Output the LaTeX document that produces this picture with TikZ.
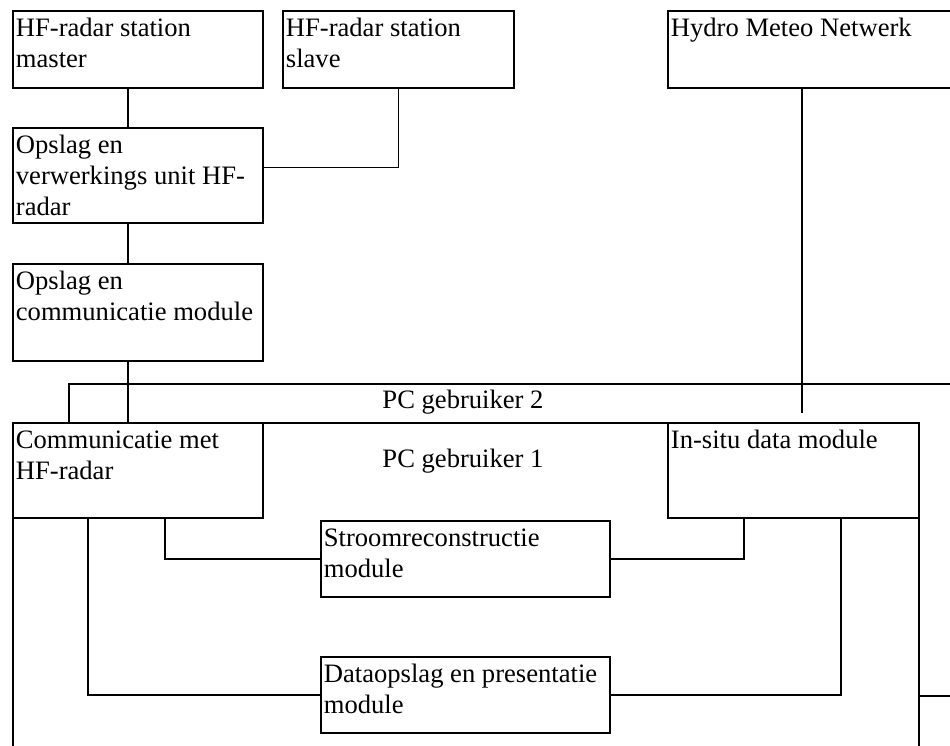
\documentclass[tikz,border=0pt]{standalone}
\usepackage{fontspec}
\setmainfont{Liberation Serif}
\usetikzlibrary{calc}

\newcommand{\bloktekst}[3]{\parbox[t][#1][t]{#2}{\raggedright\rule{0pt}{26pt}#3}}

\begin{document}
\begin{tikzpicture}[x=1pt,y=-1pt,line width=1.8pt,
  blok/.style={draw, fill=white, anchor=north west, inner xsep=3pt, inner ysep=0pt,
    font=\fontsize{26.6}{31}\selectfont},
  pcvlak/.style={draw, fill=white, anchor=north west, inner sep=0pt},
  pclabel/.style={inner sep=0pt, font=\fontsize{26.6}{31}\selectfont}]

\clip (0,0) rectangle (950,745);

% \def\stamx{128}

\node[blok] (master) at (12,10)  {\bloktekst{77pt}{244pt}{HF-radar station\\master}};
\node[blok] (slave)  at (282,10) {\bloktekst{77pt}{225pt}{HF-radar station\\slave}};
\node[blok] (hydro)  at (667,10) {\bloktekst{77pt}{327pt}{Hydro Meteo Netwerk}};

\node[blok] (verwerk) at (12,127) {\bloktekst{95pt}{244pt}{Opslag en\\verwerkings unit HF-\\radar}};
\node[blok] (opcomm)  at (12,263) {\bloktekst{97pt}{244pt}{Opslag en\\communicatie module}};

% twee pc's, de tweede achter de eerste
\node[pcvlak, minimum width=922pt, minimum height=312pt] (pc2) at (68,383) {};
\node[pcvlak, minimum width=906pt, minimum height=350pt] (pc1) at (12,422) {};
\node[pclabel] (pc2tekst) at (463,402) {PC gebruiker 2};
\node[pclabel] (pc1tekst) at (463,461) {PC gebruiker 1};

\node[blok] (comm)   at (12,422)  {\bloktekst{95pt}{244pt}{Communicatie met\\HF-radar}};
\node[blok] (insitu) at (667,422) {\bloktekst{95pt}{245pt}{In-situ data module}};
\node[blok] (stroom) at (320,520) {\bloktekst{76pt}{283pt}{Stroomreconstructie\\module}};
\node[blok] (data)   at (320,656) {\bloktekst{76pt}{283pt}{Dataopslag en presentatie\\module}};

\coordinate (stam) at (128,0);
\coordinate (hmn)  at (802,413);
\coordinate (tak1) at (165,0);
\coordinate (tak2) at (744,0);
\coordinate (tak3) at (88,0);
\coordinate (tak4) at (841,0);

\draw (master.south -| stam) -- (verwerk.north -| stam);
\draw (slave.south) |- ([yshift=8pt]verwerk.east);
\draw (verwerk.south -| stam) -- (opcomm.north -| stam);
\draw (opcomm.south -| stam) -- (comm.north -| stam);
\draw (hydro.south -| hmn) -- (hmn);

\draw (comm.south -| tak1) |- (stroom.west);
\draw (stroom.east) -| (insitu.south -| tak2);
\draw (comm.south -| tak3) |- (data.west);
\draw (data.east) -| (insitu.south -| tak4);

\end{tikzpicture}
\end{document}
